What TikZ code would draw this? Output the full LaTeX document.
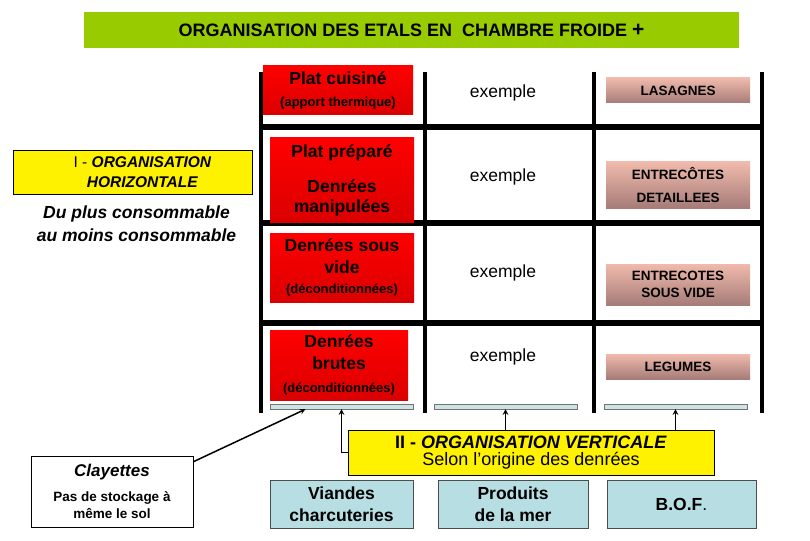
\documentclass[tikz,border=0pt]{standalone}
\usepackage{fontspec}
\setmainfont{Liberation Sans}
\usetikzlibrary{positioning}
\definecolor{titleGreen}{RGB}{153,204,0}
\definecolor{roseTop}{RGB}{240,186,172}
\definecolor{roseBot}{RGB}{166,124,120}
\definecolor{paleBlue}{RGB}{183,222,226}
\definecolor{shelfBlue}{RGB}{206,228,228}
\begin{document}
\begin{tikzpicture}[x=1pt, y=-1pt, >=stealth,
        redbox/.style={rectangle, top color=red, bottom color=red!86!black, inner sep=0pt, align=center, font=\bfseries\fontsize{17.5}{22}\selectfont},
        rosebox/.style={rectangle, top color=roseTop, bottom color=roseBot, inner sep=0pt, minimum width=144pt, align=center, font=\bfseries\fontsize{13.5}{17}\selectfont},
        yellowbox/.style={rectangle, draw, fill=yellow, inner sep=0pt, align=center},
        bluebox/.style={rectangle, draw=black!70, fill=paleBlue, inner sep=0pt, minimum height=48pt, align=center, font=\bfseries\fontsize{17.5}{22}\selectfont},
        shelf/.style={rectangle, draw=black!55, fill=shelfBlue, inner sep=0pt, minimum height=5pt},
        exemple/.style={font=\fontsize{17.5}{20}\selectfont},
        arrow/.style={->, line width=1.5pt}
    ]
        \useasboundingbox (0,0) rectangle (810,540);

        % Title
        \node (title) [fill=titleGreen, minimum width=655pt, minimum height=36pt, font=\bfseries\fontsize{18}{20}\selectfont] at (411.5,30) {ORGANISATION DES ETALS EN\ \ CHAMBRE FROIDE {\fontsize{21}{21}\selectfont +}};

        % Grid of the cold room
        \foreach \x in {261,425,594,762}
            \draw[line width=4pt] (\x,72) -- (\x,413);
        \foreach \y in {127,223,323}
            \draw[line width=6pt] (259,\y) -- (764,\y);

        % Products
        \node (cuisine) [redbox, minimum width=150pt, minimum height=49pt] at (338,90.5) {Plat cuisiné\\{\fontsize{13}{15}\selectfont(apport thermique)}};
        \node (prepare) [redbox, minimum width=144pt, minimum height=84pt] at (342,180) {Plat préparé\\[13pt]Denrées\\[-2pt]manipulées};
        \node (sousvide) [redbox, minimum width=144pt, minimum height=69pt] at (342,267.5) {Denrées sous\\vide\\[-2pt]{\fontsize{13}{15}\selectfont(déconditionnées)}};
        \node (brutes) [redbox, minimum width=138pt, minimum height=70pt] at (339,365) {Denrées\\brutes\\[1pt]{\fontsize{13}{15}\selectfont(déconditionnées)}};

        % Examples
        \node (ex1) [exemple] at (503,93) {exemple};
        \node (ex2) [exemple] at (503,177) {exemple};
        \node (ex3) [exemple] at (503,273) {exemple};
        \node (ex4) [exemple] at (503,357) {exemple};

        \node (lasagnes) [rosebox, minimum height=25pt] at (678,90.5) {LASAGNES};
        \node (detail) [rosebox, minimum height=46pt] at (678,185) {ENTRECÔTES\\[6pt]DETAILLEES};
        \node (entsv) [rosebox, minimum height=41pt] at (678,284.5) {ENTRECOTES\\SOUS VIDE};
        \node (legumes) [rosebox, minimum height=25pt] at (678,366.5) {LEGUMES};

        % Shelves
        \node (shelf1) [shelf, minimum width=143pt] at (341.5,406.5) {};
        \node (shelf2) [shelf, minimum width=143pt] at (505.5,406.5) {};
        \node (shelf3) [shelf, minimum width=143pt] at (675.5,406.5) {};

        % Horizontal organisation
        \node (horiz) [yellowbox, minimum width=239pt, minimum height=44pt, font=\fontsize{15.5}{20}\selectfont] at (132.5,172) {\hspace*{20pt}I - \textbf{\textit{ORGANISATION}}\\\hspace*{20pt}\textbf{\textit{HORIZONTALE}}};
        \node (conso) [align=center, font=\bfseries\itshape\fontsize{17.5}{23}\selectfont] at (136.5,224) {Du plus consommable\\au moins consommable};

        % Vertical organisation
        \node (vert) [yellowbox, minimum width=366pt, minimum height=45pt, font=\fontsize{18}{17}\selectfont] at (531,452.5) {\textbf{II - \textit{ORGANISATION VERTICALE}}\\Selon l’origine des denrées};

        \node (viandes) [bluebox, minimum width=143pt] at (341.5,504) {Viandes\\charcuteries};
        \node (mer) [bluebox, minimum width=150pt] at (513,504) {Produits\\de la mer};
        \node (bof) [bluebox, minimum width=149pt] at (681.5,504) {B.O.F\textmd{.}};

        % Clayettes
        \node (clay) [rectangle, draw, inner sep=0pt, minimum width=162pt, minimum height=71pt, align=center, font=\bfseries\fontsize{13.5}{17}\selectfont] at (112,491.5) {{\itshape\fontsize{17}{20}\selectfont Clayettes}\\[8pt]Pas de stockage à\\même le sol};

        % Arrows
        \draw[arrow] (vert.west) -| (shelf1.south);
        \draw[arrow] (vert.north -| shelf2.south) -- (shelf2.south);
        \draw[arrow] (vert.north -| shelf3.south) -- (shelf3.south);
        \draw[arrow] ([yshift=-6pt]clay.north east) -- ([xshift=-36pt]shelf1.south);

    \end{tikzpicture}
\end{document}
